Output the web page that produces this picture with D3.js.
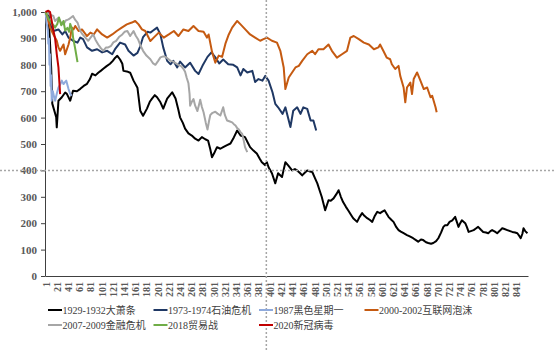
<!DOCTYPE html>
<html>
<head>
<meta charset="utf-8">
<script src="https://cdn.jsdelivr.net/npm/d3@7"></script>
<style>
  body { margin: 0; background: #fff; }
  svg { display: block; }
  .axis text { font-family: "Liberation Serif", "Times New Roman", serif; fill: #595959; font-weight: bold; }
  .legend text { font-family: "Liberation Serif", "Noto Sans CJK SC", serif; fill: #404040; font-size: 10px; }
</style>
</head>
<body>
<div id="chart"></div>
<script>
// tick labels
var xTicks = d3.range(1, 842, 20);
var yTicks = [0, 100, 200, 300, 400, 500, 600, 700, 800, 900, 1000];

// [day, index]
var crash1929 = [[1,1000],[6,995],[9,880],[11,790],[13,653],[20,601],[21,563],[24,664],[30,677],[36,695],[39,690],[45,664],[50,702],[57,700],[63,709],[69,720],[75,728],[80,745],[84,766],[90,760],[95,770],[100,778],[104,785],[110,795],[116,804],[121,815],[125,826],[129,834],[134,820],[138,804],[140,777],[146,775],[152,770],[158,740],[165,713],[170,626],[175,607],[182,634],[187,660],[191,672],[196,685],[200,677],[206,658],[211,634],[218,672],[223,685],[227,696],[233,672],[238,630],[241,601],[246,580],[250,558],[256,540],[262,532],[268,520],[274,513],[280,526],[286,518],[291,513],[295,480],[298,450],[303,470],[307,488],[313,482],[318,488],[324,495],[331,502],[337,525],[343,551],[349,532],[357,526],[362,505],[366,488],[372,475],[378,464],[383,445],[387,431],[393,420],[396,431],[399,412],[405,389],[411,351],[416,389],[423,375],[429,431],[434,419],[441,400],[446,405],[450,400],[455,390],[459,381],[464,392],[468,400],[473,396],[477,394],[482,370],[486,351],[490,325],[494,299],[500,249],[506,287],[510,285],[515,294],[520,310],[524,325],[528,300],[532,280],[537,262],[541,249],[546,232],[550,219],[557,205],[561,222],[566,238],[570,228],[575,219],[580,212],[584,205],[588,225],[593,243],[598,238],[602,244],[606,249],[610,235],[613,224],[618,213],[622,205],[627,185],[631,174],[635,168],[640,162],[646,155],[651,150],[657,143],[662,136],[666,130],[671,138],[675,136],[680,128],[684,125],[689,122],[693,125],[698,132],[702,143],[707,165],[711,186],[714,192],[718,192],[722,205],[727,211],[732,224],[735,205],[738,186],[741,200],[744,211],[750,200],[753,185],[756,167],[760,170],[765,174],[769,180],[773,186],[778,175],[782,167],[787,165],[791,162],[795,170],[798,174],[803,168],[807,162],[812,172],[816,181],[820,178],[825,174],[830,170],[834,167],[839,165],[843,162],[847,150],[849,143],[852,160],[854,181],[857,170],[861,162]];

var oil1973 = [[1,1000],[6,985],[9,953],[15,928],[24,934],[31,915],[36,928],[42,903],[50,891],[58,884],[63,903],[68,897],[75,866],[84,853],[93,859],[102,847],[111,853],[120,840],[125,859],[134,884],[143,877],[149,853],[158,835],[165,845],[170,870],[175,905],[183,925],[188,922],[193,930],[200,941],[206,915],[211,866],[218,815],[224,802],[229,815],[236,790],[241,812],[250,790],[259,808],[268,777],[274,765],[281,796],[290,830],[297,847],[304,828],[311,805],[318,820],[327,802],[336,800],[343,790],[349,760],[354,784],[361,771],[370,777],[375,735],[381,746],[388,740],[393,758],[399,740],[406,696],[411,652],[416,639],[424,614],[429,639],[438,564],[443,626],[450,639],[456,614],[461,639],[468,633],[474,589],[479,589],[484,551]];

var monday1987 = [[1,1000],[3,960],[5,930],[6,880],[7,900],[8,800],[9,840],[10,720],[11,760],[12,664],[14,700],[15,689],[18,664],[21,690],[24,714],[27,725],[30,740],[33,727],[36,735],[38,740],[42,708],[45,690],[48,683]];

var dotcom2000 = [[1,1000],[4,985],[9,941],[15,915],[21,891],[24,866],[27,853],[33,877],[36,840],[42,877],[45,903],[48,941],[51,934],[54,947],[60,928],[66,934],[75,909],[81,922],[87,915],[93,934],[102,915],[111,903],[120,915],[128,928],[137,941],[146,953],[155,960],[161,966],[167,953],[173,934],[179,928],[188,890],[194,903],[203,922],[212,903],[221,915],[230,928],[238,909],[247,934],[256,928],[265,947],[274,928],[283,925],[289,903],[292,915],[298,850],[304,808],[310,835],[316,830],[322,880],[328,915],[334,941],[343,966],[349,953],[357,935],[366,915],[375,903],[384,891],[390,897],[396,903],[405,891],[414,884],[420,853],[426,790],[429,708],[435,752],[441,771],[447,790],[453,796],[459,815],[468,840],[477,853],[482,840],[488,859],[497,859],[506,877],[512,853],[521,827],[530,840],[539,853],[545,903],[551,909],[560,897],[569,884],[578,877],[587,859],[595,866],[598,877],[604,852],[610,827],[616,821],[619,802],[625,784],[631,796],[634,758],[640,714],[643,658],[646,714],[652,733],[655,689],[658,746],[664,771],[670,740],[676,708],[682,714],[688,677],[691,683],[697,639],[699,620]];

var gfc2007 = [[1,1000],[5,995],[9,990],[15,985],[18,966],[24,978],[28,962],[33,953],[37,968],[42,972],[46,978],[50,985],[54,970],[58,960],[63,928],[67,915],[72,903],[77,891],[82,905],[86,915],[90,895],[95,877],[100,862],[104,853],[109,866],[113,866],[118,872],[122,885],[127,891],[132,905],[138,915],[142,925],[147,928],[152,909],[158,928],[162,910],[166,897],[170,875],[175,853],[181,835],[188,821],[193,805],[197,800],[202,815],[206,828],[211,832],[215,830],[220,822],[224,815],[229,812],[234,805],[238,800],[243,795],[247,785],[250,774],[253,750],[256,730],[258,690],[259,645],[262,660],[265,670],[268,645],[272,625],[275,650],[277,668],[280,640],[283,620],[287,580],[290,555],[293,590],[295,610],[299,618],[304,622],[308,615],[313,608],[318,639],[321,610],[325,589],[330,585],[334,582],[337,575],[340,570],[343,560],[345,557],[349,545],[352,538],[355,510],[357,488],[361,469]];

var trade2018 = [[1,1000],[6,975],[11,960],[15,950],[18,941],[22,955],[25,979],[29,950],[33,966],[36,930],[40,940],[43,925],[45,955],[49,930],[50,905],[54,860],[58,810]];

var covid2020 = [[1,1000],[4,1003],[6,1005],[9,1000],[12,966],[15,930],[18,900],[21,840],[24,790],[27,689]];

var seriesNames = ['1929-1932大萧条', '1973-1974石油危机', '1987黑色星期一', '2000-2002互联网泡沫',
  '2007-2009金融危机', '2018贸易战', '2020新冠病毒'];
var seriesData = [crash1929, oil1973, monday1987, dotcom2000, gfc2007, trade2018, covid2020];
var seriesColors = ['#000000', '#1f3864', '#8faadc', '#c55a11', '#a6a6a6', '#70ad47', '#c00000'];

var width = 554,
  height = 352;

var x = d3.scaleLinear().domain([0, 862]).range([45, 528]);
var y = d3.scaleLinear().domain([0, 1000]).range([276, 12]);

var svg = d3.select('#chart')
  .append('svg')
  .attr('width', width)
  .attr('height', height);

// y axis
var yAxis = svg.append('g')
  .attr('class', 'axis')
  .attr('transform', 'translate(45,0)')
  .call(d3.axisLeft(y).tickValues(yTicks).tickSize(4).tickSizeOuter(0)
    .tickPadding(4).tickFormat(d3.format(',')));
yAxis.selectAll('text').style('font-size', '11px');
yAxis.selectAll('path, line').attr('stroke', '#404040');

// x axis, labels turned upright
var xAxis = svg.append('g')
  .attr('class', 'axis')
  .attr('transform', 'translate(0,276)')
  .call(d3.axisBottom(x).tickValues(xTicks).tickSize(0).tickSizeOuter(0));
xAxis.select('.domain').attr('stroke', '#404040');
xAxis.selectAll('text')
  .style('font-size', '10px')
  .attr('transform', 'rotate(-90)')
  .attr('text-anchor', 'end')
  .attr('x', -6)
  .attr('y', 0)
  .attr('dy', '0.35em');

// series
var line = d3.line()
  .x(function(d) { return x(d[0]); })
  .y(function(d) { return y(d[1]); });

svg.append('g')
  .selectAll('path')
  .data(seriesData)
  .enter()
  .append('path')
  .attr('d', line)
  .attr('fill', 'none')
  .attr('stroke', function(d, i) { return seriesColors[i]; })
  .attr('stroke-width', 2)
  .attr('stroke-linejoin', 'round');

// dashed guides
svg.append('line')
  .attr('x1', 0).attr('x2', width)
  .attr('y1', y(400)).attr('y2', y(400))
  .attr('stroke', '#a6a6a6')
  .attr('stroke-width', 1.5)
  .attr('stroke-dasharray', '2,2');
svg.append('line')
  .attr('x1', x(395)).attr('x2', x(395))
  .attr('y1', 0).attr('y2', height)
  .attr('stroke', '#a6a6a6')
  .attr('stroke-width', 1.5)
  .attr('stroke-dasharray', '2,2');

// legend
var legend = svg.append('g')
  .attr('class', 'legend')
  .selectAll('g')
  .data(seriesNames)
  .enter()
  .append('g')
  .attr('transform', function(d, i) {
    return 'translate(' + (48 + (i % 4) * 105.5) + ',' + (310 + Math.floor(i / 4) * 15) + ')';
  });
legend.append('line')
  .attr('x1', 0).attr('x2', 14)
  .attr('stroke', function(d, i) { return seriesColors[i]; })
  .attr('stroke-width', 2);
legend.append('text')
  .attr('x', 14.5)
  .attr('dy', '0.35em')
  .text(function(d) { return d; });
</script>
</body>
</html>
